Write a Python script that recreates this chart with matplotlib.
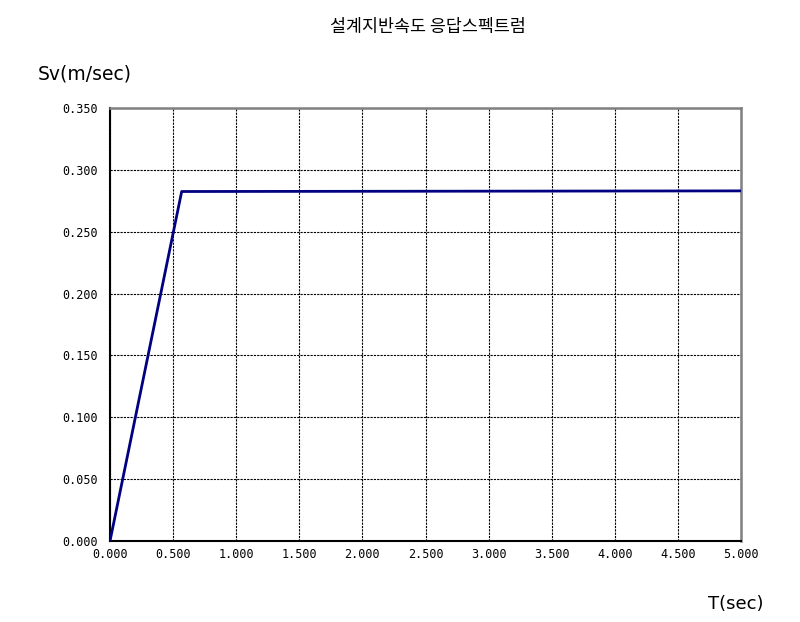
import numpy as np
import matplotlib
matplotlib.use('Agg')
import matplotlib.pyplot as plt

# 설계지반속도 응답스펙트럼 데이터
period = [0.0, 0.568, 5.0]           # T(sec)
velocity = [0.0, 0.2825, 0.283]      # Sv(m/sec)

x_ticks = np.arange(0, 5.001, 0.5)
y_ticks = np.arange(0, 0.3501, 0.05)

plt.rcParams['font.family'] = ['Noto Sans CJK KR', 'DejaVu Sans']

fig = plt.figure(figsize=(8, 6.22), dpi=100)
ax = fig.add_axes([110/800, 1 - 541/622, 631/800, 433/622])

ax.plot(period, velocity, color='#000080', lw=2, zorder=3)

ax.set_xlim(0, 5)
ax.set_ylim(0, 0.35)
ax.set_xticks(x_ticks)
ax.set_yticks(y_ticks)
ax.set_xticklabels([f'{v:.3f}' for v in x_ticks], family='DejaVu Sans Mono', fontsize=8.5)
ax.set_yticklabels([f'{v:.3f}' for v in y_ticks], family='DejaVu Sans Mono', fontsize=8.5)
ax.tick_params(axis='y', length=0, pad=9)
ax.tick_params(axis='x', length=0, pad=5)

ax.grid(True, color='black', linestyle=(0, (2, 1)), linewidth=0.8)
ax.set_axisbelow(True)

ax.spines['left'].set_color('black')
ax.spines['bottom'].set_color('black')
ax.spines['left'].set_linewidth(1.5)
ax.spines['bottom'].set_linewidth(1.5)
ax.spines['top'].set_color('gray')
ax.spines['right'].set_color('gray')
ax.spines['top'].set_linewidth(1.8)
ax.spines['right'].set_linewidth(1.8)

fig.text(428/800, 1 - 27/622, '설계지반속도 응답스펙트럼', ha='center', va='center', fontsize=12.5)
fig.text(38/800, 1 - 74/622, 'Sv(m/sec)', ha='left', va='center', fontsize=13.5, family='DejaVu Sans')
fig.text(764/800, 1 - 604/622, 'T(sec)', ha='right', va='center', fontsize=13, family='DejaVu Sans')

fig.savefig('out.png', dpi=100)
